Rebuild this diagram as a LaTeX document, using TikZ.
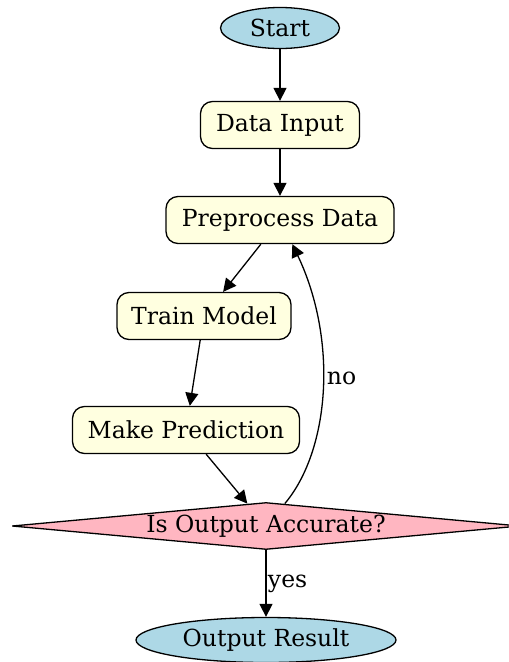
\documentclass[tikz,border=0pt]{standalone}
\usepackage{fontspec}
\setmainfont{DejaVu Serif}
\usepackage{xcolor}
\usepackage{tikz}
\usetikzlibrary{arrows.meta,positioning,shapes.geometric,calc}
\definecolor{termblue}{HTML}{ADD8E6}
\definecolor{stageyellow}{HTML}{FFFFE0}
\definecolor{checkpink}{HTML}{FFB6C1}

\begin{document}
\begin{tikzpicture}[
        x=1pt,y=-1pt,
        font=\fontsize{23.5}{28}\selectfont,
        >={Triangle[length=13pt,width=13pt]},
        term/.style={ellipse,draw,line width=1.3pt,fill=termblue,inner sep=0pt},
        stage/.style={rectangle,draw,line width=1.3pt,rounded corners=12pt,fill=stageyellow,minimum height=47pt,inner sep=0pt,align=center},
        check/.style={diamond,draw,line width=1.3pt,fill=checkpink,aspect=10,inner sep=0pt,minimum width=508pt,minimum height=47pt},
        arrow/.style={->,line width=1.3pt}
    ]
        \useasboundingbox (0,0) rectangle (509,662);

        \node[term,minimum width=119pt,minimum height=41pt] (start) at (280,28) {Start};
        \node[stage,minimum width=159pt] (input) at (280,125) {Data Input};
        \node[stage,minimum width=228pt] (prep) at (280,220) {Preprocess Data};
        \node[stage,minimum width=174pt] (train) at (204,316) {Train Model};
        \node[stage,minimum width=227pt] (predict) at (186,430) {Make Prediction};
        \node[check] (accurate) at (266,526) {Is Output Accurate?};
        \node[term,minimum width=260pt,minimum height=45pt] (result) at (266,640) {Output Result};

        \draw[arrow] (start) -- (input);
        \draw[arrow] (input) -- (prep);
        \draw[arrow] (prep) -- (train);
        \draw[arrow] (train) -- (predict);
        \draw[arrow] (predict) -- (accurate);
        \draw[arrow] (accurate.50) .. controls (330,450) and (338,340) .. node[pos=0.54,right=0pt] (nolabel) {no} (prep.297);
        \draw[arrow] (accurate) -- node[pos=0.5,right=-2pt] (yeslabel) {yes} (result);
    \end{tikzpicture}
\end{document}
